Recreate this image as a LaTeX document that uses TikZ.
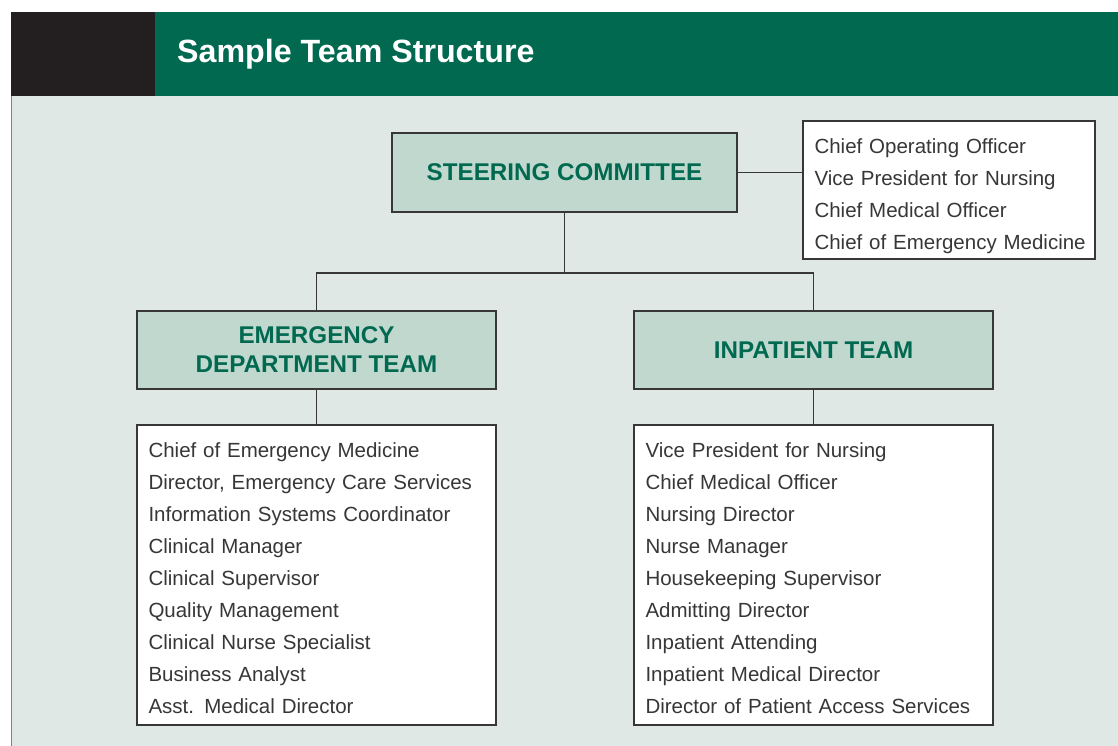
\documentclass[tikz,border=0pt]{standalone}
\usepackage{fontspec}
\setmainfont{Liberation Sans}
\definecolor{hdrgreen}{RGB}{0,105,80}
\definecolor{blockblack}{RGB}{35,31,32}
\definecolor{panelbg}{RGB}{223,232,229}
\definecolor{panelline}{RGB}{90,150,125}
\definecolor{boxfill}{RGB}{193,216,207}
\definecolor{boxline}{RGB}{55,55,55}
\definecolor{listtext}{RGB}{55,55,55}
\tikzset{
  teambox/.style={draw=boxline, line width=1.3pt, fill=boxfill, text=hdrgreen,
    font=\fontsize{24.2}{29}\selectfont\bfseries, align=center,
    minimum width=359pt, minimum height=78pt, inner sep=0pt},
  listbox/.style={draw=boxline, line width=1.3pt, fill=white, text=listtext,
    font=\fontsize{20.5}{32}\selectfont, align=left,
    inner xsep=11.5pt, inner ysep=0pt, text height=21pt},
  link/.style={draw=boxline, line width=1.3pt}
}
\begin{document}
\begin{tikzpicture}[x=1pt,y=-1pt]
\useasboundingbox (0,0) rectangle (1118,746);
% background panel and header
\fill[panelbg] (11,96) rectangle (1118,746);
\draw[panelline, line width=1pt] (11.5,96) -- (11.5,746);
\fill[blockblack] (11,12) rectangle (155,96);
\fill[hdrgreen] (155,12) rectangle (1118,96);
\node[anchor=base west, text=white, font=\fontsize{32.2}{38}\selectfont\bfseries, inner sep=0pt] (title) at (177,63) {Sample Team Structure};
% nodes
\node[teambox, minimum width=345pt, minimum height=79pt] (steer) at (564.5,172.5) {STEERING COMMITTEE};
\node[listbox, text width=269pt, minimum height=138pt, text height=27pt] (toplist) at (949,190) {Chief Operating Officer\\Vice President for Nursing\\Chief Medical Officer\\\mbox{Chief of Emergency Medicine}};
\node[teambox] (ed) at (316.5,350) {EMERGENCY\\DEPARTMENT TEAM};
\node[teambox] (ip) at (813.5,350) {INPATIENT TEAM};
\node[listbox, text width=336pt, minimum height=300pt] (edlist) at (316.5,575) {Chief of Emergency Medicine\\Director, Emergency Care Services\\Information Systems Coordinator\\Clinical Manager\\Clinical Supervisor\\Quality Management\\Clinical Nurse Specialist\\Business Analyst\\Asst. Medical Director};
\node[listbox, text width=336pt, minimum height=300pt] (iplist) at (813.5,575) {Vice President for Nursing\\Chief Medical Officer\\Nursing Director\\Nurse Manager\\Housekeeping Supervisor\\Admitting Director\\Inpatient Attending\\Inpatient Medical Director\\Director of Patient Access Services};
% connectors
\coordinate (j) at (566,273);
\draw[link] (steer.east) -- (steer.east -| toplist.west);
\draw[link] (steer.south) -- (steer.south |- j);
\draw[link] (ed.north) |- (j) -| (ip.north);
\draw[link] (ed.south) -- (edlist.north);
\draw[link] (ip.south) -- (iplist.north);
\end{tikzpicture}
\end{document}
